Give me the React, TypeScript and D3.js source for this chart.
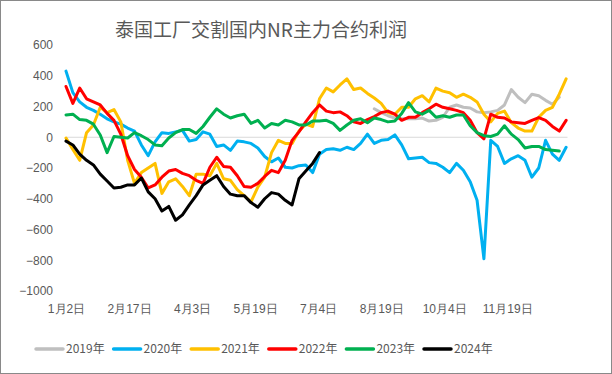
import React, { useEffect, useRef } from 'react';
import * as d3 from 'd3';

const title = '泰国工厂交割国内NR主力合约利润';
const years = ['2019年', '2020年', '2021年', '2022年', '2023年', '2024年'];
const colors = ['#BFBFBF', '#00B0F0', '#FFC000', '#FF0000', '#00B050', '#000000'];
const yTicks = [-1000, -800, -600, -400, -200, 0, 200, 400, 600];
const tickDates = ['2024-01-02', '2024-02-17', '2024-04-03', '2024-05-19', '2024-07-04', '2024-08-19', '2024-10-04', '2024-11-19'];

// days after 1月2日 for each sample
const sampleDays = [
  0, 5, 10, 15, 20, 25, 30, 35, 40, 45, 50, 55, 60, 65, 70, 75, 80, 85, 90, 95,
  100, 105, 110, 115, 120, 125, 130, 135, 140, 145, 150, 155, 160, 165, 170, 175, 180, 185, 190, 195,
  200, 205, 210, 215, 220, 225, 230, 235, 240, 245, 250, 255, 260, 265, 270, 275, 280, 285, 290, 295,
  300, 305, 310, 315, 320, 325, 330, 335, 340, 345, 350, 355, 360, 365,
];

const v2019 = [
  185, 160, 140, 125, 120, 120, 120, 125, 105, 110,
  130, 195, 210, 195, 190, 165, 160, 165, 175, 210,
  310, 260, 225, 280, 270, 240, 215, 260,
];
const v2020 = [
  430, 290, 230, 195, 175, 150, 120, 100, 85, 60,
  40, -50, -120, -30, 30, 25, 35, 45, -25, -15,
  35, 20, -60, -50, -85, -25, -30, -40, -70, -125,
  -160, -135, -195, -200, -185, -180, -230, -110, -80, -75,
  -85, -65, -80, -40, 20, -40, -20, -15, 15, -50,
  -140, -135, -130, -165, -170, -195, -230, -170, -215, -290,
  -410, -790, -20, -60, -170, -140, -120, -150, -260, -200,
  -20, -110, -150, -65,
];
const v2021 = [
  -5, -80, -150, 30, 80, 195, 160, 180, 100, -150,
  -300, -230, -200, -170, -365, -290, -270, -320, -380, -240,
  -240, -250, -170, -270, -280, -340, -380, -420, -325, -260,
  -100, -20, -40, -40, 40, 85, 70, 250, 320, 295,
  340, 380, 310, 320, 285, 255, 220, 160, 150, 195,
  195, 250, 270, 230, 320, 300, 290, 260, 280, 260,
  230, 150, 100, 155, 170, 95, 60, 40, 40, 130,
  175, 195, 280, 380,
];
const v2022 = [
  330, 220, 320, 250, 230, 210, 155, 110, 20, -120,
  -210, -260, -330, -310, -260, -220, -210, -235, -250, -280,
  -300, -195, -130, -190, -195, -250, -320, -325, -300, -255,
  -215, -230, -150, -20, 35, 100, 160, 210, 170, 160,
  165, 140, 100, 90, 115, 135, 160, 170, 150, 110,
  130, 130, 160, 185, 215, 195, 185, 175, 160, 110,
  30, -10, 150, 130, 125, 100, 95, 90, 110, 128,
  110, 70, 40, 110,
];
const v2023 = [
  145, 150, 115, 110, 85, 15, -100, 5, 0, -5,
  30, 10, -15, -50, -55, -5, 30, 50, 50, 25,
  70, 130, 185, 150, 125, 140, 150, 90, 110, 60,
  90, 80, 110, 100, 80, 80, 105, 105, 110, 90,
  45, 80, 110, 120, 95, 125, 115, 100, 105, 155,
  225, 165, 150, 175, 130, 140, 130, 145, 145, 75,
  30, 10, 5, 20, 75, 20, -15, -70, -60, -60,
  -80, -85, -90,
];
const v2024 = [
  -25, -50, -110, -150, -180, -240, -285, -330, -325, -310,
  -310, -265, -355, -400, -480, -450, -540, -505, -440, -380,
  -310, -280, -250, -320, -370, -380, -380, -425, -455, -400,
  -360, -370, -410, -440, -270, -220, -170, -100,
];

// series values and the sample index where each one begins
const seriesValues = [v2019, v2020, v2021, v2022, v2023, v2024];
const seriesStart = [45, 0, 0, 0, 0, 0];

const W = 612;
const H = 374;

const App = () => {
  const svgRef = useRef<SVGSVGElement>(null);

  useEffect(() => {
    const svg = d3.select(svgRef.current);
    svg.selectAll('*').remove();

    const start = new Date(2024, 0, 2);
    const x = d3.scaleTime()
      .domain([start, new Date(2025, 0, 2)])
      .range([66, 567.5]);
    const y = d3.scaleLinear()
      .domain([-1000, 600])
      .range([291, 45]);

    // chart border
    svg.append('rect')
      .attr('x', 0.5).attr('y', 0.5)
      .attr('width', W - 1).attr('height', H - 1)
      .attr('fill', '#fff')
      .attr('stroke', '#898989');

    // title
    svg.append('text')
      .attr('x', 261)
      .attr('y', 37)
      .attr('text-anchor', 'middle')
      .style('font-size', '19px')
      .attr('fill', '#595959')
      .text(title);

    // y axis labels
    const yAxis = svg.append('g')
      .attr('transform', 'translate(53,0)')
      .call(d3.axisLeft(y).tickValues(yTicks).tickFormat(d3.format('d')).tickSize(0).tickPadding(0));
    yAxis.select('.domain').remove();
    yAxis.selectAll('text')
      .attr('fill', '#595959')
      .style('font-size', '12px')
      .style('font-family', 'inherit');

    // zero line
    svg.append('line')
      .attr('x1', x(start)).attr('x2', 567.5)
      .attr('y1', y(0)).attr('y2', y(0))
      .attr('stroke', '#D9D9D9')
      .attr('stroke-width', 1);

    // x axis labels
    const parse = d3.timeParse('%Y-%m-%d');
    const xAxis = svg.append('g')
      .attr('transform', 'translate(0,304)')
      .call(d3.axisBottom(x)
        .tickValues(tickDates.map(d => parse(d) as Date))
        .tickFormat(d => `${(d as Date).getMonth() + 1}月${(d as Date).getDate()}日`)
        .tickSize(0).tickPadding(0));
    xAxis.select('.domain').remove();
    xAxis.selectAll('text')
      .attr('fill', '#595959')
      .style('font-size', '12px')
      .style('font-family', 'inherit');

    // lines
    const line = d3.line<[number, number]>()
      .x(d => x(d3.timeDay.offset(start, sampleDays[d[0]])))
      .y(d => y(d[1]));

    seriesValues.forEach((vals, s) => {
      const pts: [number, number][] = vals.map((v, i) => [seriesStart[s] + i, v]);
      svg.append('path')
        .datum(pts)
        .attr('d', line)
        .attr('fill', 'none')
        .attr('stroke', colors[s])
        .attr('stroke-width', 3)
        .attr('stroke-linejoin', 'round')
        .attr('stroke-linecap', 'round');
    });

    // legend
    const legend = svg.append('g').attr('transform', 'translate(36,349)');
    years.forEach((yr, i) => {
      const g = legend.append('g').attr('transform', `translate(${i * 77.6},0)`);
      g.append('line')
        .attr('x1', 0).attr('x2', 27)
        .attr('y1', 0).attr('y2', 0)
        .attr('stroke', colors[i])
        .attr('stroke-width', 3.5)
        .attr('stroke-linecap', 'round');
      g.append('text')
        .attr('x', 30)
        .attr('y', 0)
        .attr('dy', '0.35em')
        .attr('fill', '#595959')
        .style('font-size', '12px')
        .text(yr);
    });
  }, []);

  return (
    <svg
      ref={svgRef}
      width={W}
      height={H}
      style={{ position: 'absolute', left: 0, top: 0, fontFamily: '"Noto Sans CJK SC", "Noto Sans", sans-serif' }}
    />
  );
};

export default App;
